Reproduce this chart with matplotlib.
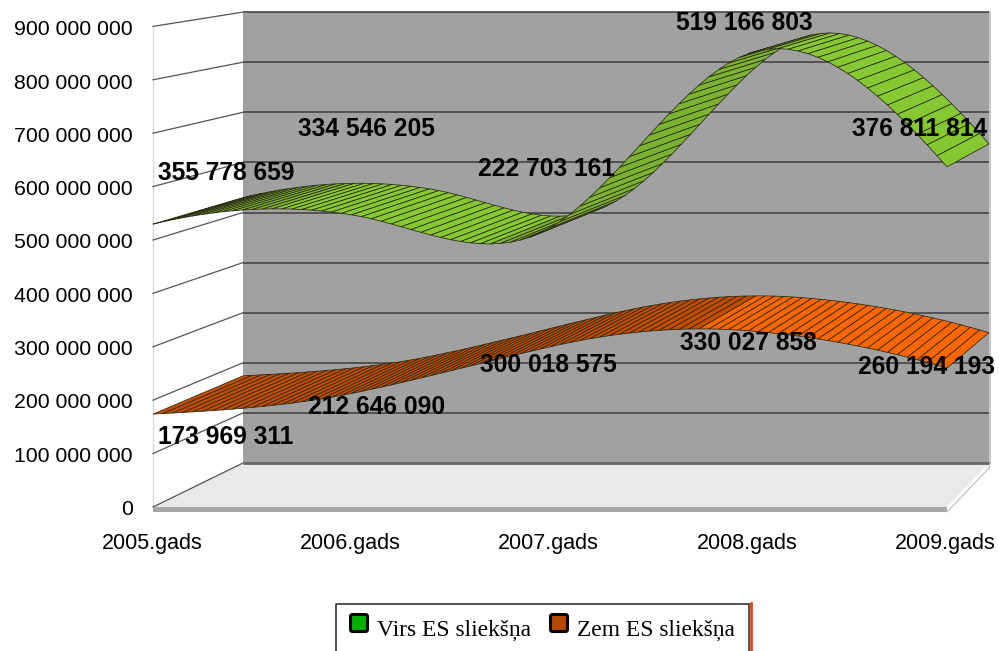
import numpy as np
import matplotlib
matplotlib.use("Agg")
import matplotlib.pyplot as plt
from matplotlib.collections import PolyCollection
from matplotlib.patches import Polygon, Rectangle, FancyBboxPatch

categories = ["2005.gads", "2006.gads", "2007.gads", "2008.gads", "2009.gads"]
virs = [355778659, 334546205, 222703161, 519166803, 376811814]
zem = [173969311, 212646090, 300018575, 330027858, 260194193]
series_names = ["Virs ES sliekšņa", "Zem ES sliekšņa"]
y_ticks = list(range(0, 900000001, 100000000))

# curve smoothing tangents (million per category), a drawing style of the ribbons
zem_tangent = [20, 75, 85, -30, -110]
top_tangent = [90, -60, 215, 130, -420]

# layout in pixels of the 3D box
FRONT = dict(x0=153, x1=947, y0=507, per100=53.4)
BACK = dict(x0=243, x1=989, y0=463, per100=50.1)


def project(pos, value, depth):
    """category position, value in units, depth 0..1 -> screen pixels"""
    f = pos / (len(categories) - 1)
    xf = FRONT["x0"] + (FRONT["x1"] - FRONT["x0"]) * f
    xb = BACK["x0"] + (BACK["x1"] - BACK["x0"]) * f
    yf = FRONT["y0"] - FRONT["per100"] * value / 1e8
    yb = BACK["y0"] - BACK["per100"] * value / 1e8
    return xf + (xb - xf) * depth, yf + (yb - yf) * depth


def smooth(values, tangents, nseg=20):
    pos, val = [], []
    v = np.asarray(values, float)
    m = np.asarray(tangents, float) * 1e6
    for i in range(len(v) - 1):
        t = np.arange(nseg) / nseg
        h00 = 2 * t**3 - 3 * t**2 + 1
        h10 = t**3 - 2 * t**2 + t
        h01 = -2 * t**3 + 3 * t**2
        h11 = t**3 - t**2
        pos.extend(i + t)
        val.extend(h00 * v[i] + h10 * m[i] + h01 * v[i + 1] + h11 * m[i + 1])
    pos.append(len(v) - 1)
    val.append(v[-1])
    return np.array(pos), np.array(val)


fig = plt.figure(figsize=(9.99, 6.51), dpi=100)
ax = fig.add_axes([0, 0, 1, 1])
ax.set_xlim(0, 999)
ax.set_ylim(651, 0)
ax.axis("off")

# back wall
top = y_ticks[-1]
bl = project(0, 0, 1)
br = project(4, 0, 1)
tl = project(0, top, 1)
tr = project(4, top, 1)
ax.add_patch(Polygon([bl, br, tr, tl], fc="#A1A1A1", ec="none", zorder=1))
ax.plot([br[0] + .5, tr[0] + .5], [br[1], tr[1]], color="#BDBDBD", lw=1.2, zorder=1.1)

# floor
fl = project(0, 0, 0)
fr = project(4, 0, 0)
ax.add_patch(Polygon([fl, fr, br, bl], fc="#E9E9E9", ec="none", zorder=1.2))
ax.add_patch(Rectangle((fl[0], fl[1]), fr[0] - fl[0], 5, fc="#A6A6A6", ec="none", zorder=1.3))
ax.plot([fr[0], br[0]], [fr[1] + 5, br[1] + 5], color="#BDBDBD", lw=0.8, zorder=1.3)
ax.plot([br[0], br[0]], [br[1], br[1] + 5], color="#BDBDBD", lw=0.8, zorder=1.3)
ax.plot([fl[0], tl[0] - 90], [fl[1], project(0, top, 0)[1]], color="#D9D9D9", lw=1, zorder=1.3)

# gridlines on both walls
for v in y_ticks:
    a = project(0, v, 0)
    b = project(0, v, 1)
    c = project(4, v, 1)
    lw = 2.0 if v == 0 else 1.2
    ax.plot([b[0], c[0]], [b[1], c[1]], color="#666666" if v == 0 else "#454545", lw=lw, zorder=1.5,
            solid_capstyle="butt")
    ax.plot([a[0], b[0]], [a[1], b[1]], color="#555555", lw=0.9, zorder=1.5)


def ribbon(values, tangents, light, dark, z):
    p, val = smooth(values, tangents)
    fx, fy = project(p, val, 0)
    bx, by = project(p, val, 1)
    quads, colors = [], []
    for i in range(len(p) - 1):
        quads.append([(fx[i], fy[i]), (fx[i + 1], fy[i + 1]), (bx[i + 1], by[i + 1]), (bx[i], by[i])])
        colors.append(dark if val[i + 1] > val[i] else light)
    ax.add_collection(PolyCollection(quads, facecolors=colors, edgecolors="#2A2A14", linewidths=0.55, zorder=z))


stack_top = [a + b for a, b in zip(zem, virs)]
ribbon(zem, zem_tangent, "#FF6600", "#C44C00", 3)
ribbon(stack_top, top_tangent, "#86C832", "#7CB232", 3)

# axis labels
for i, v in enumerate(y_ticks):
    y = 507.5 - i * 53.3
    ax.text(133, y, f"{v:,}".replace(",", " "), ha="right", va="center_baseline",
            family="Liberation Sans", fontsize=15.3, color="black", zorder=5)
for i, c in enumerate(categories):
    ax.text(152 + i * 198.3, 541, c, ha="center", va="center_baseline",
            family="Liberation Sans", fontsize=15.5, color="black", zorder=5)

# data labels
label_centres = {
    "virs": [(226.5, 170), (366.5, 126), (546, 166), (744, 20), (920, 126)],
    "zem": [(226, 434), (377, 405), (548.5, 363), (748.5, 341), (926.5, 365)],
}
for vals, key in ((virs, "virs"), (zem, "zem")):
    for v, (x, y) in zip(vals, label_centres[key]):
        ax.text(x, y, f"{v:,}".replace(",", " "), ha="center", va="center_baseline",
                family="Liberation Sans", fontweight="bold", fontsize=17.7, color="black", zorder=6)

# legend
ax.plot([336, 336, 749, 749], [660, 603.5, 603.5, 660], color="#2A2020", lw=1.1, zorder=7)
ax.plot([751, 751], [603, 660], color="#F04010", lw=2, zorder=7)
for x0, col, name, tx in ((349.5, "#00B000", series_names[0], 377), (549.5, "#B84A00", series_names[1], 577)):
    ax.add_patch(FancyBboxPatch((x0 + 1, 614.5), 17, 17, boxstyle="round,pad=0,rounding_size=2",
                                fc=col, ec="black", lw=2.2, zorder=7))
    ax.text(tx, 628, name, ha="left", va="center_baseline", family="Liberation Serif",
            fontsize=16.9, color="black", zorder=7)

fig.savefig("out.png", dpi=100)
